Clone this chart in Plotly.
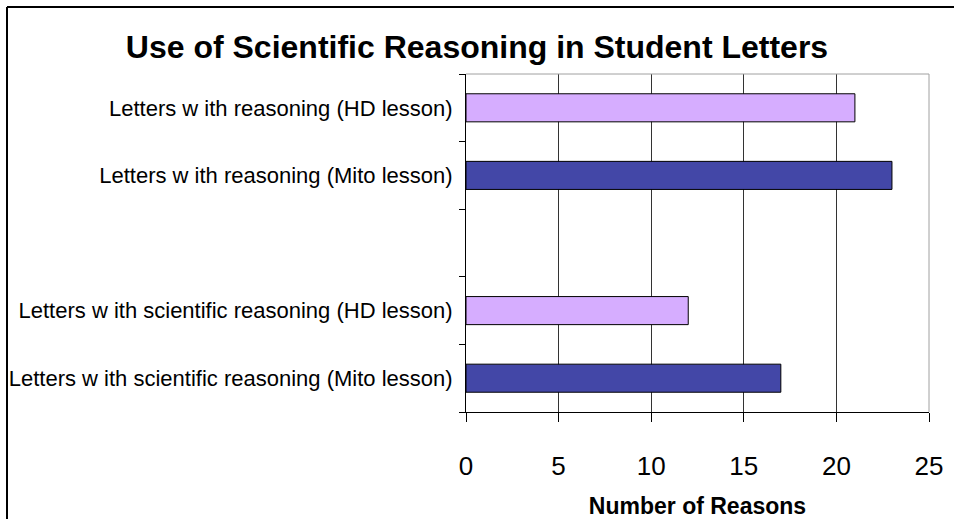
import plotly.graph_objects as go

# Category slots, bottom to top; the blank slot separates the two groups
categories = [
    "Letters w ith scientific reasoning (Mito lesson)",
    "Letters w ith scientific reasoning (HD lesson)",
    " ",
    "Letters w ith reasoning (Mito lesson)",
    "Letters w ith reasoning (HD lesson)",
]

mito_labels = ["Letters w ith scientific reasoning (Mito lesson)",
               "Letters w ith reasoning (Mito lesson)"]
mito_values = [17, 23]

hd_labels = ["Letters w ith scientific reasoning (HD lesson)",
             "Letters w ith reasoning (HD lesson)"]
hd_values = [12, 21]

x_ticks = [0, 5, 10, 15, 20, 25]

W, H = 954, 519
ML, MR, MT, MB = 466, 25, 74, 107
PW, PH = W - ML - MR, H - MT - MB

FONT = "Liberation Sans, Arial, sans-serif"

fig = go.Figure()
fig.add_trace(go.Bar(
    y=mito_labels, x=mito_values, orientation="h", width=0.415,
    marker=dict(color="#4347A7", line=dict(color="#000000", width=1)),
    name="Mito lesson",
))
fig.add_trace(go.Bar(
    y=hd_labels, x=hd_values, orientation="h", width=0.415,
    marker=dict(color="#D6ADFF", line=dict(color="#000000", width=1)),
    name="HD lesson",
))


def px_to_paper_x(px):
    return (px - ML) / PW


def px_to_paper_y(py):
    return (H - MB - py) / PH


shapes = [
    # light grey frame along the top and right of the plot area
    dict(type="line", xref="paper", yref="paper", x0=0, x1=1, y0=1, y1=1,
         line=dict(color="#A0A0A0", width=1), layer="above"),
    dict(type="line", xref="paper", yref="paper", x0=1, x1=1, y0=0, y1=1,
         line=dict(color="#A0A0A0", width=1), layer="above"),
    # outer chart border (left and top edges)
    dict(type="line", xref="paper", yref="paper",
         x0=px_to_paper_x(7), x1=px_to_paper_x(7),
         y0=px_to_paper_y(7), y1=px_to_paper_y(H + 10),
         line=dict(color="#000000", width=2)),
    dict(type="line", xref="paper", yref="paper",
         x0=px_to_paper_x(7), x1=px_to_paper_x(W + 10),
         y0=px_to_paper_y(7), y1=px_to_paper_y(7),
         line=dict(color="#000000", width=2)),
]

fig.update_layout(
    width=W, height=H,
    margin=dict(l=ML, r=MR, t=MT, b=MB, pad=0, autoexpand=False),
    paper_bgcolor="white", plot_bgcolor="white",
    barmode="overlay",
    showlegend=False,
    title=dict(
        text="<b>Use of Scientific Reasoning in Student Letters</b>",
        x=0.5, xref="container", xanchor="center",
        y=1 - 47 / H, yref="container", yanchor="middle",
        font=dict(family=FONT, size=32, color="#000000"),
    ),
    font=dict(family=FONT, color="#000000"),
    shapes=shapes,
)

fig.update_xaxes(
    range=[0, 25], tickvals=x_ticks, ticktext=[str(v) for v in x_ticks],
    automargin=False,
    showgrid=True, gridcolor="#333333", gridwidth=1,
    showline=True, linecolor="#000000", linewidth=1,
    ticks="outside", ticklen=9, tickcolor="#000000", tickwidth=1,
    tickfont=dict(family=FONT, size=26, color="#000000"),
    ticklabelstandoff=22,
    zeroline=False,
    title=dict(text="<b>Number of Reasons</b>", standoff=24,
               font=dict(family=FONT, size=23, color="#000000")),
)
fig.update_yaxes(
    type="category", categoryorder="array", categoryarray=categories,
    range=[-0.5, 4.5], tickson="boundaries",
    automargin=False,
    showgrid=False,
    showline=True, linecolor="#000000", linewidth=1,
    ticks="outside", ticklen=6, tickcolor="#000000", tickwidth=1,
    tickfont=dict(family=FONT, size=22, color="#000000"),
    ticklabelstandoff=8,
)

fig.write_html("out.html")
